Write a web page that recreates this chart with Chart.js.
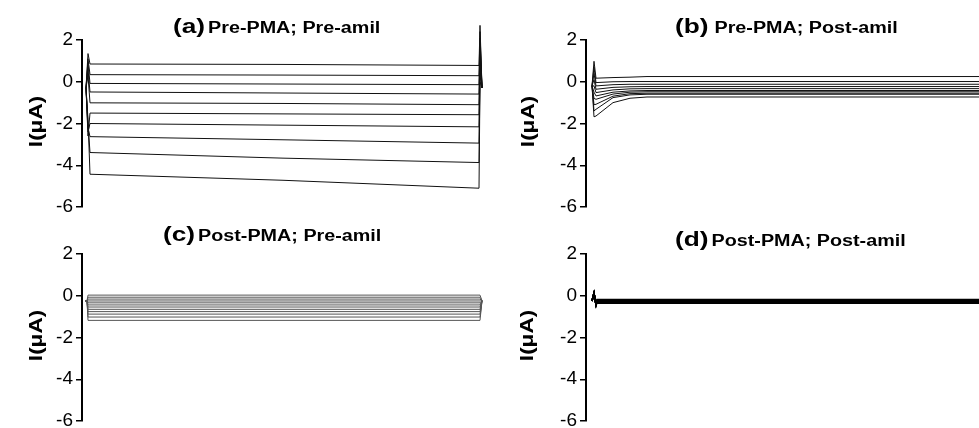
<!DOCTYPE html>
<html>
<head>
<meta charset="utf-8">
<script src="https://cdn.jsdelivr.net/npm/chart.js@4.4.1/dist/chart.umd.min.js"></script>
<style>
html, body { margin: 0; padding: 0; background: #fff; overflow: hidden; }
body { width: 979px; height: 428px; position: relative; }
.panel { position: absolute; }
</style>
</head>
<body>
<div class="panel" style="left:0;top:0"><canvas id="chartA" width="490" height="214"></canvas></div>
<div class="panel" style="left:490px;top:0"><canvas id="chartB" width="500" height="214"></canvas></div>
<div class="panel" style="left:0;top:214px"><canvas id="chartC" width="490" height="214"></canvas></div>
<div class="panel" style="left:490px;top:214px"><canvas id="chartD" width="500" height="214"></canvas></div>
<script>
// y axis (current, µA)
const yTickValues = [2, 0, -2, -4, -6];

// (a) Pre-PMA; Pre-amil  -- sample times (ms) and current per sweep
const aTimes = [4, 6, 8, 201, 397, 398, 400];
const aHold = -0.3;
const aOnset = [1.35, 1.1, 0.9, 0.6, 0.3, -2.6, -2.4, -2.2, -2.0, -1.8];
const aStart = [0.85, 0.34, -0.08, -0.49, -1.01, -1.50, -2.00, -2.63, -3.39, -4.43];
const aMid   = [0.83, 0.32, -0.11, -0.54, -1.04, -1.54, -2.08, -2.78, -3.66, -4.72];
const aEnd   = [0.78, 0.29, -0.14, -0.59, -1.10, -1.58, -2.16, -2.94, -3.87, -5.10];
const aTail  = [2.7, 2.4, 2.1, 1.8, 1.5, 1.2, 0.9, 0.6, 0.3, 0.0];

// (b) Pre-PMA; Post-amil
const bTimes = [6, 8, 10, 27, 44, 61, 400];
const bHold = -0.2;
const bOnset  = [0.98, 0.7, 0.4, 0.1, -0.2, -0.5, -0.8, -1.1, -1.4, -1.68];
const bInit   = [0.17, -0.04, -0.20, -0.36, -0.52, -0.68, -0.84, -1.08, -1.32, -1.64];
const bMid1   = [0.20, 0.00, -0.14, -0.27, -0.39, -0.50, -0.59, -0.69, -0.76, -1.00];
const bMid2   = [0.22, 0.01, -0.12, -0.24, -0.34, -0.44, -0.50, -0.57, -0.63, -0.79];
const bSteady = [0.25, 0.01, -0.12, -0.23, -0.33, -0.42, -0.48, -0.55, -0.60, -0.73];

// (c) Post-PMA; Pre-amil
const cTimes = [3, 5, 6, 398, 400];
const cHold = -0.24;
const cLevels = [0.03, -0.07, -0.16, -0.25, -0.34, -0.44, -0.54, -0.65, -0.76, -0.88, -1.02, -1.18];

// (d) Post-PMA; Post-amil
const dTimes = [6, 8, 10, 11, 400];
const dHold = -0.25;
const dSpike = 0.13;
const dDip = -0.43;
const dLevels = [-0.18, -0.20, -0.22, -0.24, -0.26, -0.28, -0.30, -0.32, -0.34, -0.36];

const STRETCH = 1.25; // the figure's lettering is drawn wide
const FONT = '"Liberation Sans", Arial, sans-serif';

const panelText = {
    id: 'panelText',
    afterDraw(chart, args, opts) {
        const { ctx, chartArea } = chart;
        ctx.save();
        ctx.fillStyle = '#000';
        ctx.textBaseline = 'alphabetic';
        ctx.textAlign = 'left';
        // panel title: big tag + smaller caption
        ctx.font = 'bold 21px ' + FONT;
        const wTag = ctx.measureText(opts.tag).width * STRETCH;
        ctx.save();
        ctx.translate(opts.x, opts.baseline);
        ctx.scale(STRETCH, 1);
        ctx.fillText(opts.tag, 0, 0);
        ctx.restore();
        ctx.font = 'bold 15.8px ' + FONT;
        ctx.save();
        ctx.translate(opts.x + wTag + opts.gap, opts.baseline);
        ctx.scale(STRETCH, 1);
        ctx.fillText(opts.sub, 0, 0);
        ctx.restore();
        // y axis title
        ctx.font = 'bold 18px ' + FONT;
        ctx.textAlign = 'center';
        ctx.textBaseline = 'middle';
        ctx.save();
        ctx.translate(opts.yTitleX, (chartArea.top + chartArea.bottom) / 2 - 2);
        ctx.rotate(-Math.PI / 2);
        ctx.scale(STRETCH, 1);
        ctx.fillText('I(\u03bcA)', 0, 0);
        ctx.restore();
        ctx.restore();
    }
};

function sweep(times, values, color, width) {
    return {
        data: times.map((t, k) => ({ x: t, y: values[k] })),
        borderColor: color,
        borderWidth: width,
        pointRadius: 0,
        tension: 0,
        fill: false,
        clip: false
    };
}

function makeChart(id, datasets, axisW, canvasW, text) {
    const ctx = document.getElementById(id).getContext('2d');
    return new Chart(ctx, {
        type: 'line',
        data: { datasets: datasets },
        plugins: [panelText],
        options: {
            responsive: false,
            animation: false,
            events: [],
            layout: { padding: { left: 0, top: 40, right: canvasW - axisW - 400, bottom: 7 } },
            scales: {
                x: { type: 'linear', min: 0, max: 400, display: false },
                y: {
                    type: 'linear',
                    min: -6,
                    max: 2,
                    afterBuildTicks: (s) => { s.ticks = yTickValues.map(v => ({ value: v })); },
                    afterFit: (s) => { s.width = axisW; s.paddingTop = 0; s.paddingBottom = 0; },
                    grid: { drawOnChartArea: false, drawTicks: true, tickLength: 6, color: '#000', lineWidth: 1.5 },
                    border: { display: true, color: '#000', width: 2 },
                    ticks: { color: '#000', padding: 3, font: { family: FONT, size: 19 } }
                }
            },
            plugins: {
                legend: { display: false },
                tooltip: { enabled: false },
                panelText: text
            }
        }
    });
}

// (a)
const dsA = aStart.map((s, i) =>
    sweep(aTimes, [aHold, aOnset[i], s, aMid[i], aEnd[i], aTail[i], aHold], '#111', 1));
makeChart('chartA', dsA, 82, 490,
    { tag: '(a)', sub: 'Pre-PMA; Pre-amil', x: 173, baseline: 33, gap: 3, yTitleX: 37 });

// (b)
const dsB = bSteady.map((s, i) =>
    sweep(bTimes, [bHold, bOnset[i], bInit[i], bMid1[i], bMid2[i], s, s], '#111', 1));
makeChart('chartB', dsB, 96, 500,
    { tag: '(b)', sub: 'Pre-PMA; Post-amil', x: 185, baseline: 33, gap: 6, yTitleX: 39 });

// (c)
const dsC = cLevels.map(l => sweep(cTimes, [cHold, cHold, l, l, cHold], '#555', 1));
makeChart('chartC', dsC, 82, 490,
    { tag: '(c)', sub: 'Post-PMA; Pre-amil', x: 163, baseline: 27, gap: 3, yTitleX: 37 });

// (d)
const dsD = dLevels.map(l => sweep(dTimes, [dHold, dSpike, dDip, l, l], '#000', 1.5));
makeChart('chartD', dsD, 96, 500,
    { tag: '(d)', sub: 'Post-PMA; Post-amil', x: 185, baseline: 32, gap: 3, yTitleX: 38 });
</script>
</body>
</html>
